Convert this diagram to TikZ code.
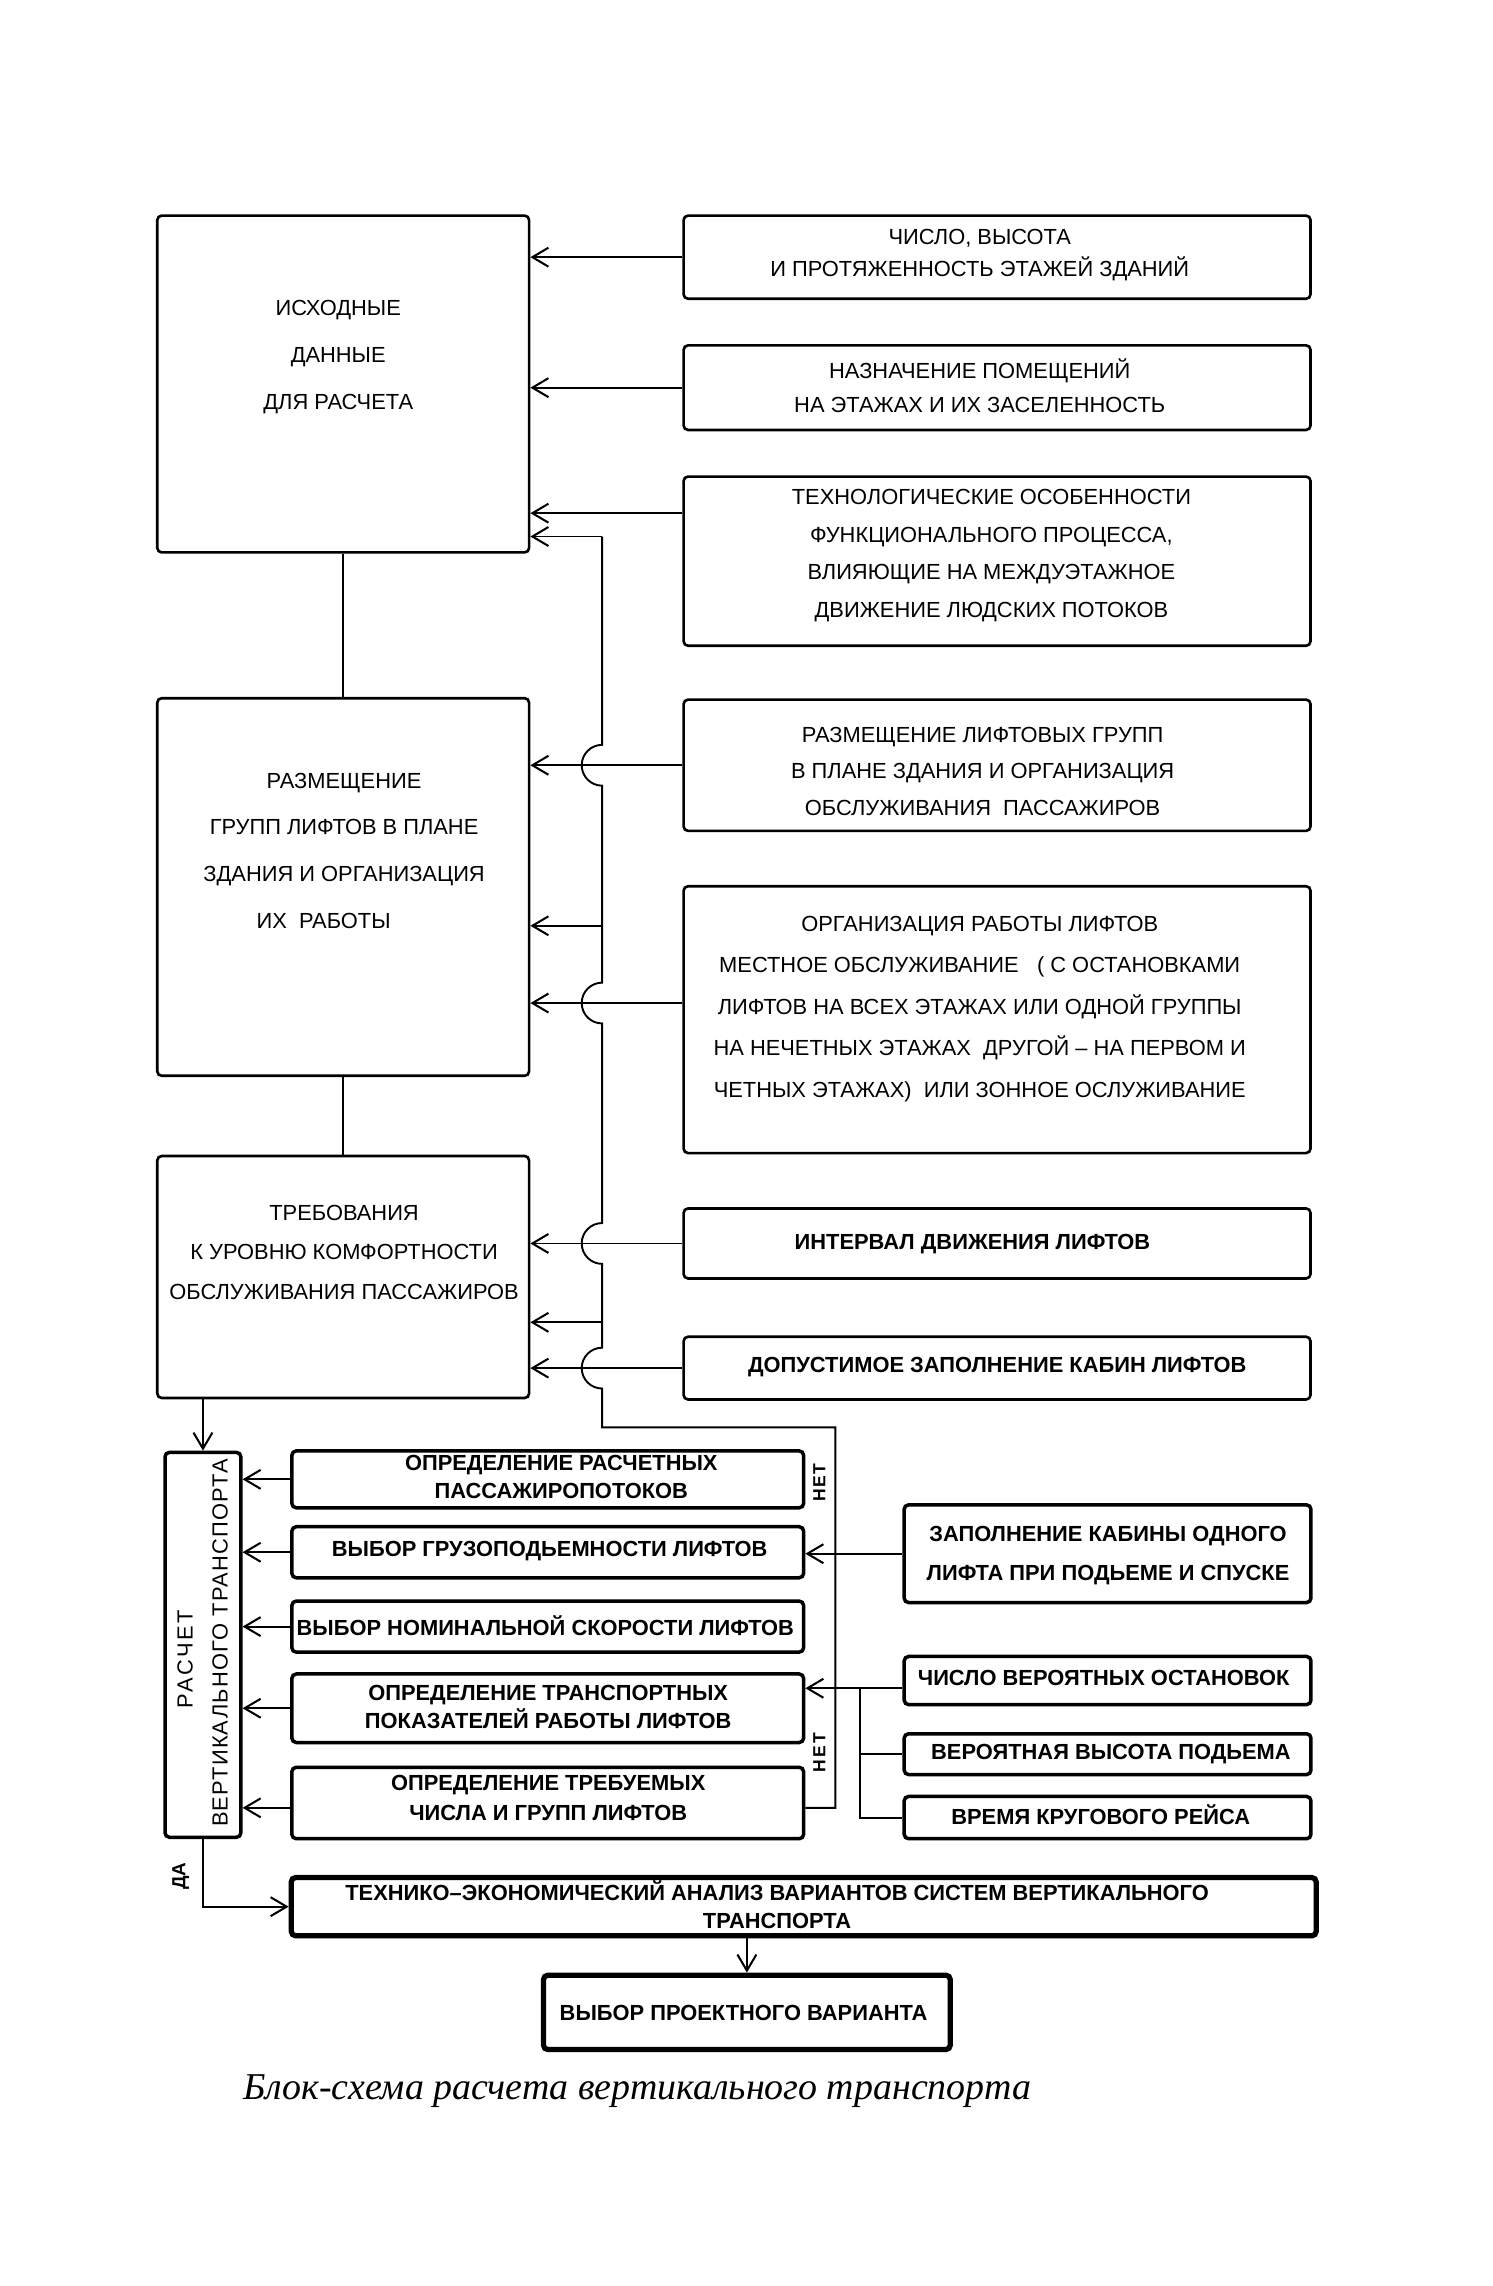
\documentclass[tikz,border=0pt]{standalone}
\usepackage{fontspec}
\setmainfont{Liberation Sans}
\newfontfamily\capfont{Liberation Serif}
\usetikzlibrary{arrows.meta,calc}
\begin{document}
\begin{tikzpicture}[x=1pt,y=-1pt,
  box/.style={draw, line width=1.8pt, rounded corners=3pt, inner sep=0pt, anchor=north west},
  lbox/.style={box, line width=2.4pt},
  hbox/.style={box, line width=3.6pt},
  ttxt/.style={font=\fontsize{15}{#1}\selectfont, align=center, inner sep=0pt},
  btxt/.style={font=\fontsize{15}{#1}\selectfont\bfseries, align=center, inner sep=0pt},
  ln/.style={line width=1.3pt},
  arr/.style={line width=1.3pt, -{Straight Barb[length=11pt,width=13pt,line width=1.4pt]}},
  lab/.style={font=\fontsize{12}{12}\selectfont\bfseries, rotate=90, inner sep=0pt}
]
\fill[white] (0,0) rectangle (1024,1568);
\useasboundingbox (0,0) rectangle (1024,1568);

% ---------- upper boxes ----------
\node[box, minimum width=255pt, minimum height=231pt] (A) at (107,147) {};
\node[box, minimum width=430pt, minimum height=57pt]  (R1) at (468,147) {};
\node[box, minimum width=430pt, minimum height=58pt]  (R2) at (468,236) {};
\node[box, minimum width=430pt, minimum height=116pt] (R3) at (468,326) {};
\node[box, minimum width=255pt, minimum height=259pt] (B) at (107,478) {};
\node[box, minimum width=430pt, minimum height=90pt]  (R4) at (468,479) {};
\node[box, minimum width=430pt, minimum height=183pt] (R5) at (468,607) {};
\node[box, minimum width=255pt, minimum height=166pt] (C) at (107,792) {};
\node[box, minimum width=430pt, minimum height=48pt]  (R6) at (468,828) {};
\node[box, minimum width=430pt, minimum height=43pt]  (R7) at (468,916) {};

\node[ttxt=32] (tA) at (232,245) {ИСХОДНЫЕ\\ДАННЫЕ\\ДЛЯ РАСЧЕТА};
\node[ttxt=22] (tR1) at (672,175) {ЧИСЛО, ВЫСОТА\\И ПРОТЯЖЕННОСТЬ ЭТАЖЕЙ ЗДАНИЙ};
\node[ttxt=23] (tR2) at (672,264.5) {НАЗНАЧЕНИЕ ПОМЕЩЕНИЙ\\НА ЭТАЖАХ И ИХ ЗАСЕЛЕННОСТЬ};
\node[ttxt=25.7] (tR3) at (680,381) {ТЕХНОЛОГИЧЕСКИЕ ОСОБЕННОСТИ\\ФУНКЦИОНАЛЬНОГО ПРОЦЕССА,\\ВЛИЯЮЩИЕ НА МЕЖДУЭТАЖНОЕ\\ДВИЖЕНИЕ ЛЮДСКИХ ПОТОКОВ};
\node[ttxt=32] (tB) at (236,583.5) {РАЗМЕЩЕНИЕ\\ГРУПП ЛИФТОВ В ПЛАНЕ\\ЗДАНИЯ И ОРГАНИЗАЦИЯ\\ИХ\ \ РАБОТЫ\rule{28pt}{0pt}};
\node[ttxt=25] (tR4) at (674,529) {РАЗМЕЩЕНИЕ ЛИФТОВЫХ ГРУПП\\В ПЛАНЕ ЗДАНИЯ И ОРГАНИЗАЦИЯ\\ОБСЛУЖИВАНИЯ\ \ ПАССАЖИРОВ};
\node[ttxt=28.5] (tR5) at (672,692) {ОРГАНИЗАЦИЯ РАБОТЫ ЛИФТОВ\\МЕСТНОЕ ОБСЛУЖИВАНИЕ\ \ \ ( С ОСТАНОВКАМИ\\ЛИФТОВ НА ВСЕХ ЭТАЖАХ ИЛИ ОДНОЙ ГРУППЫ\\НА НЕЧЕТНЫХ ЭТАЖАХ\ \ ДРУГОЙ – НА ПЕРВОМ И\\ЧЕТНЫХ ЭТАЖАХ)\ \ ИЛИ ЗОННОЕ ОСЛУЖИВАНИЕ};
\node[ttxt=27] (tC) at (236,859) {ТРЕБОВАНИЯ\\К УРОВНЮ КОМФОРТНОСТИ\\ОБСЛУЖИВАНИЯ ПАССАЖИРОВ};
\node[btxt=15] (tR6) at (667,853) {ИНТЕРВАЛ ДВИЖЕНИЯ ЛИФТОВ};
\node[btxt=15] (tR7) at (684,938) {ДОПУСТИМОЕ ЗАПОЛНЕНИЕ КАБИН ЛИФТОВ};

% ---------- lower boxes ----------
\node[lbox, minimum width=52pt,  minimum height=264pt] (P) at (112,995) {};
\node[lbox, minimum width=351pt, minimum height=39pt] (L1) at (199,994) {};
\node[lbox, minimum width=351pt, minimum height=35pt] (L2) at (199,1046) {};
\node[lbox, minimum width=351pt, minimum height=35pt] (L3) at (199,1097) {};
\node[lbox, minimum width=351pt, minimum height=47pt] (L4) at (199,1147) {};
\node[lbox, minimum width=351pt, minimum height=49pt] (L5) at (199,1211) {};
\node[lbox, minimum width=279pt, minimum height=67pt] (R8) at (619,1031) {};
\node[lbox, minimum width=279pt, minimum height=33pt] (R9) at (619,1135) {};
\node[lbox, minimum width=279pt, minimum height=28pt] (R10) at (619,1188) {};
\node[lbox, minimum width=279pt, minimum height=29pt] (R11) at (619,1231) {};
\node[hbox, minimum width=703pt, minimum height=40pt] (T) at (198,1286) {};
\node[hbox, minimum width=279pt, minimum height=51pt] (V) at (371,1353) {};

\node[ttxt=15, rotate=90] (tP1) at (127,1138) {\addfontfeatures{LetterSpace=12}РАСЧЕТ};
\node[ttxt=15, rotate=90] (tP2) at (151,1127) {\addfontfeatures{LetterSpace=5.5}ВЕРТИКАЛЬНОГО ТРАНСПОРТА};
\node[btxt=19] (tL1) at (385,1013) {ОПРЕДЕЛЕНИЕ РАСЧЕТНЫХ\\ПАССАЖИРОПОТОКОВ};
\node[btxt=15] (tL2) at (377,1064) {ВЫБОР ГРУЗОПОДЬЕМНОСТИ ЛИФТОВ};
\node[btxt=15] (tL3) at (374,1115) {ВЫБОР НОМИНАЛЬНОЙ СКОРОСТИ ЛИФТОВ};
\node[btxt=19.5] (tL4) at (376,1171) {ОПРЕДЕЛЕНИЕ ТРАНСПОРТНЫХ\\ПОКАЗАТЕЛЕЙ РАБОТЫ ЛИФТОВ};
\node[btxt=20.6] (tL5) at (376,1233.5) {ОПРЕДЕЛЕНИЕ ТРЕБУЕМЫХ\\ЧИСЛА И ГРУПП ЛИФТОВ};
\node[btxt=27] (tR8) at (760,1067) {ЗАПОЛНЕНИЕ КАБИНЫ ОДНОГО\\ЛИФТА ПРИ ПОДЬЕМЕ И СПУСКЕ};
\node[btxt=15] (tR9) at (757,1151) {ЧИСЛО ВЕРОЯТНЫХ ОСТАНОВОК};
\node[btxt=15] (tR10) at (762,1203) {ВЕРОЯТНАЯ ВЫСОТА ПОДЬЕМА};
\node[btxt=15] (tR11) at (755,1245) {ВРЕМЯ КРУГОВОГО РЕЙСА};
\node[btxt=19] (tT) at (533,1306.5) {ТЕХНИКО–ЭКОНОМИЧЕСКИЙ АНАЛИЗ ВАРИАНТОВ СИСТЕМ ВЕРТИКАЛЬНОГО\\ТРАНСПОРТА};
\node[btxt=15] (tV) at (510,1381) {ВЫБОР ПРОЕКТНОГО ВАРИАНТА};

\node[lab] (n1) at (562,1017) {\addfontfeatures{LetterSpace=10}НЕТ};
\node[lab] (n2) at (562,1202) {\addfontfeatures{LetterSpace=14}НЕТ};
\node[lab, font=\fontsize{13}{13}\selectfont\bfseries] (da) at (124,1287) {ДА};

\node[font=\capfont\itshape\fontsize{26}{26}\selectfont, inner sep=0pt] (cap) at (437,1434) {Блок-схема расчета вертикального транспорта};

% ---------- helper coordinates ----------
\coordinate (fx) at (413,0);
\coordinate (nx) at (573,0);
\coordinate (bus) at (590,0);
\coordinate (yA) at (0,368);
\coordinate (yB) at (0,635);
\coordinate (yC) at (0,907);
\coordinate (y3) at (0,352);
\coordinate (y5) at (0,688);
\coordinate (yTop) at (0,979);
\coordinate (y9) at (0,1158);
\coordinate (y11) at (0,1240);

% ---------- connectors upper ----------
\draw[ln] (A.south) -- (B.north);
\draw[ln] (B.south) -- (C.north);
\draw[arr] (R1.west) -- (A.east |- R1.west);
\draw[arr] (R2.west) -- (A.east |- R2.west);
\draw[arr] (R3.west |- y3) -- (A.east |- y3);
\draw[arr] (R4.west) -- (B.east |- R4.west);
\draw[arr] (R5.west |- y5) -- (B.east |- y5);
\draw[arr] (R6.west) -- (C.east |- R6.west);
\draw[arr] (R7.west) -- (C.east |- R7.west);

% feedback line with jumps
\draw[ln] (L5.east |- y11) -- (nx |- y11) -- (nx |- yTop) -- (fx |- yTop)
  -- ($(fx |- R7.west)+(0,14)$) arc[start angle=90, end angle=270, radius=14]
  -- ($(fx |- R6.west)+(0,14)$) arc[start angle=90, end angle=270, radius=14]
  -- ($(fx |- y5)+(0,14)$) arc[start angle=90, end angle=270, radius=14]
  -- ($(fx |- R4.west)+(0,14)$) arc[start angle=90, end angle=270, radius=14]
  -- (fx |- yA);
\draw[arr] (fx |- yA) -- (A.east |- yA);
\draw[arr] (fx |- yB) -- (B.east |- yB);
\draw[arr] (fx |- yC) -- (C.east |- yC);

% ---------- connectors lower ----------
\draw[arr] (C.south -| P.north) -- (P.north);
\draw[arr] (L1.west) -- (P.east |- L1.west);
\draw[arr] (L2.west) -- (P.east |- L2.west);
\draw[arr] (L3.west) -- (P.east |- L3.west);
\draw[arr] (L4.west) -- (P.east |- L4.west);
\draw[arr] (L5.west |- y11) -- (P.east |- y11);
\draw[arr] (R8.west) -- (L2.east |- R8.west);
\draw[arr] (R9.west |- y9) -- (L4.east |- y9);
\draw[ln] (bus |- y9) -- (bus |- R11.west) -- (R11.west);
\draw[ln] (bus |- R10.west) -- (R10.west);
\draw[arr] (P.south) -- (P.south |- T.west) -- (T.west);
\draw[arr] (V.north |- T.south) -- (V.north);
\end{tikzpicture}
\end{document}
